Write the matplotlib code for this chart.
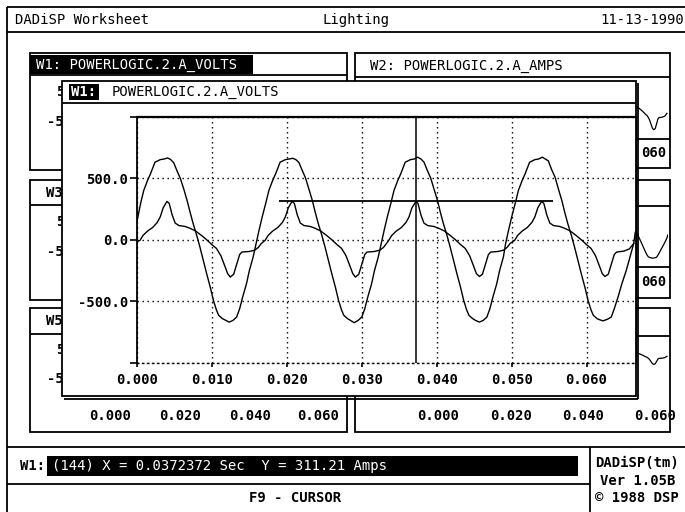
import numpy as np
import matplotlib
matplotlib.use("Agg")
import matplotlib.pyplot as plt
from matplotlib.patches import Rectangle

# ---------------- data ----------------
# large waveform (time in ms, value)
volts_t_ms = [0.0, 0.5, 0.9, 1.4, 1.8, 2.4, 3.1, 3.6, 4.1, 4.5, 4.9, 5.3, 5.8, 6.3, 6.7, 7.1, 7.5, 8.0,
              8.4, 8.9, 9.3, 9.8, 10.2, 10.6, 10.9, 11.4, 11.8, 12.3, 12.8, 13.3, 13.7, 14.1, 14.6, 15.0, 15.5,
              15.9, 16.3, 16.7, 17.2, 17.6, 18.1, 18.5, 19.1, 19.8, 20.3, 20.8, 21.2, 21.6, 22.0, 22.5, 23.0,
              23.4, 23.8, 24.2, 24.7, 25.1, 25.6, 26.0, 26.5, 26.9, 27.3, 27.6, 28.1, 28.5, 29.0, 29.5, 30.0,
              30.4, 30.8, 31.3, 31.7, 32.2,
              32.6, 33.0, 33.4, 33.9, 34.3, 34.8, 35.2, 35.8, 36.5, 37.0, 37.45, 37.9, 38.3, 38.7, 39.2, 39.7,
              40.1, 40.5, 40.9, 41.4, 41.8, 42.3, 42.7, 43.2, 43.6, 44.0, 44.3, 44.8, 45.2, 45.7, 46.2, 46.7,
              47.1, 47.5, 48.0, 48.4, 48.9,
              49.2, 49.6, 50.0, 50.5, 50.9, 51.4, 51.8, 52.4, 53.1, 53.6, 54.1, 54.5, 54.9, 55.3, 55.8, 56.3,
              56.7, 57.1, 57.5, 58.0, 58.4, 58.9, 59.3, 59.8, 60.2, 60.6, 60.9, 61.4, 61.8, 62.2, 62.8, 63.3,
              63.7, 64.2, 64.7, 65.3, 65.8, 66.3, 66.5]
volts_v = [150, 300, 400, 480, 535, 629, 650, 655, 664, 650, 625, 565, 495, 400, 315, 220, 130, 30,
           -60, -180, -276, -390, -492, -570, -613, -640, -652, -668, -655, -627, -560, -465, -360, -249, -140,
           -30, 80, 183, 300, 400, 480, 535, 629, 650, 655, 661, 650, 628, 570, 500, 400,
           319, 220, 130, 30, -60, -180, -276, -390, -492, -570, -613, -640, -655, -673, -655, -627,
           -560, -465, -360, -249, -140,
           -30, 80, 183, 300, 400, 480, 535, 629, 650, 655, 670, 655, 630, 570, 500, 400,
           319, 220, 130, 30, -60, -180, -276, -390, -492, -570, -613, -640, -655, -668, -655, -627,
           -560, -465, -360, -249, -140,
           -30, 80, 183, 300, 400, 480, 535, 629, 650, 655, 670, 655, 640, 575, 507, 400,
           319, 220, 130, 30, -60, -180, -276, -390, -492, -570, -613, -640, -650, -658, -645, -627,
           -560, -465, -360, -249, -140, -30, 60]

# small waveform (time in ms, value)
amps_t_ms = [0.0, 0.4, 0.8, 1.4, 2.1, 2.7, 3.1, 3.5, 4.0, 4.3, 4.7, 5.1, 5.6, 6.4, 7.0, 7.8, 8.6, 9.3,
             10.0, 10.6, 11.2, 11.7, 12.1, 12.45, 12.9, 13.3, 13.7, 14.0, 15.0, 15.7, 16.2, 16.6,
             17.1, 17.5, 18.1, 18.8, 19.4, 19.8, 20.2, 20.7, 21.0, 21.4, 21.8, 22.3, 23.1, 23.7, 24.5, 25.3,
             26.0, 26.7, 27.3, 27.9, 28.4, 28.8, 29.15, 29.6, 30.0, 30.4, 30.7, 31.7, 32.4, 32.9, 33.3,
             33.6, 34.0, 34.6, 35.3, 35.9, 36.3, 36.7, 37.24, 37.5, 37.9, 38.3, 38.8, 39.6, 40.2, 41.0, 41.8,
             42.5, 43.2, 43.8, 44.4, 44.9, 45.3, 45.7, 46.1, 46.5, 46.9, 47.2, 48.2, 48.9, 49.4, 49.8,
             50.4, 50.8, 51.4, 52.1, 52.7, 53.1, 53.5, 54.0, 54.3, 54.7, 55.1, 55.6, 56.4, 57.0, 57.8, 58.6,
             59.3, 60.0, 60.6, 61.2, 61.7, 62.1, 62.45, 62.9, 63.3, 63.7, 64.0, 65.0, 65.7, 66.3]
amps_v = [-15, -5, 35, 70, 100, 140, 185, 260, 311, 295, 200, 135, 115, 108, 95, 72, 35, 0,
          -40, -70, -130, -210, -275, -303, -280, -200, -120, -100, -95, -85, -62, -30,
          -5, 35, 70, 100, 140, 185, 260, 311, 295, 200, 135, 115, 108, 95, 72, 35,
          0, -40, -70, -130, -210, -275, -303, -280, -200, -120, -100, -95, -85, -62, -30,
          -5, 35, 70, 100, 140, 185, 260, 311, 295, 200, 135, 115, 108, 95, 72, 35,
          0, -40, -70, -130, -210, -275, -298, -280, -200, -120, -100, -95, -85, -62, -30,
          -5, 35, 70, 100, 140, 185, 260, 311, 295, 200, 135, 115, 108, 95, 72, 35,
          0, -40, -70, -130, -210, -275, -298, -280, -200, -120, -100, -92, -75, -30]

x_ticks = [0.000, 0.010, 0.020, 0.030, 0.040, 0.050, 0.060]
x_tick_labels = ["0.000", "0.010", "0.020", "0.030", "0.040", "0.050", "0.060"]
y_ticks = [-1000, -500, 0, 500, 1000]
y_tick_labels = ["", "-500.0", "0.0", "500.0", ""]
x_limits = [0.0, 0.0666]
y_limits = [-1000, 1000]

cursor_index = 144
cursor_x = 0.0372372
cursor_y = 311.21
cursor_span = [0.0189, 0.0555]

bg_tick_labels = ["0.000", "0.020", "0.040", "0.060"]
bg_hidden_pos_label = "5"     # visible part of "500.0" behind the zoomed window
bg_hidden_neg_label = "-5"    # visible part of "-500.0" behind the zoomed window
bg_hidden_right_label = "060" # visible part of "0.060" behind the zoomed window

volts_t = np.array(volts_t_ms) / 1000.0
amps_t = np.array(amps_t_ms) / 1000.0

# ---------------- figure ----------------
W, H = 685, 512
plt.rcParams['font.family'] = ['DejaVu Sans Mono']
plt.rcParams['font.size'] = 10
fig = plt.figure(figsize=(W / 100, H / 100), dpi=100, facecolor='white')

DOT = (0, (1, 2.6))


def box(x0, y0, x1, y1):
    return [x0 / W, 1 - y1 / H, (x1 - x0) / W, (y1 - y0) / H]


# background window traces (mostly hidden by the zoomed window)
def bg_trace(pos, t, v, ylim):
    a = fig.add_axes(box(*pos))
    a.plot(t, v, color='k', lw=0.9)
    a.set_xlim(x_limits)
    a.set_ylim(ylim)
    a.axis('off')
    return a

bg_trace((438, 84, 668, 139), amps_t, amps_v, (-450, 450))
bg_trace((438, 208, 668, 266), volts_t, volts_v, (-900, 900))
bg_trace((438, 340, 668, 392), amps_t, amps_v, (-1200, 500))

ui = fig.add_axes([0, 0, 1, 1])
ui.set_xlim(0, W)
ui.set_ylim(H, 0)
ui.axis('off')
ui.patch.set_visible(False)


def line(x0, y0, x1, y1, lw=1.3, z=1):
    ui.plot([x0, x1], [y0, y1], color='k', lw=lw, zorder=z, solid_capstyle='butt')


def rect(x0, y0, x1, y1, fc='none', lw=1.3, z=1):
    ui.add_patch(Rectangle((x0, y0), x1 - x0, y1 - y0, fc=fc, ec='k', lw=lw, zorder=z))


def txt(x, y, s, ha='left', color='k', weight='normal', z=2, size=10):
    ui.text(x, y, s, ha=ha, va='center', color=color, fontweight=weight, zorder=z, fontsize=size)


# outer frame and title bar
line(7, 7, 685, 7)
line(7, 7, 7, 512)
line(7, 32, 685, 32)
txt(15, 20, "DADiSP Worksheet")
txt(356, 20, "Lighting", ha='center')
txt(684, 20, "11-13-1990", ha='right')

# left column windows
rect(30, 53, 347, 170)
rect(30, 180, 347, 300)
rect(30, 308, 347, 432)
line(30, 75, 347, 75)
line(30, 205, 347, 205)
line(30, 334, 347, 334)
ui.add_patch(Rectangle((30, 55), 223, 19, fc='k', ec='none', zorder=1.5))
txt(36, 65, "W1: POWERLOGIC.2.A_VOLTS", color='white', z=2)
txt(46, 193, "W3", weight='bold')
txt(46, 321, "W5", weight='bold')
for yc in (92, 222, 350):
    txt(64, yc, bg_hidden_pos_label, ha='right', weight='bold')
for yc in (122, 252, 379):
    txt(64, yc, bg_hidden_neg_label, ha='right', weight='bold')
for xc, lab in zip((110, 180, 250, 318), bg_tick_labels):
    txt(xc, 416, lab, ha='center', weight='bold')

# right column windows
rect(355, 53, 670, 168)
rect(355, 180, 670, 298)
rect(355, 308, 670, 432)
line(355, 77, 670, 77)
line(355, 206, 670, 206)
line(355, 336, 670, 336)
line(355, 139, 670, 139)
line(355, 267, 670, 267)
txt(370, 66, "W2: POWERLOGIC.2.A_AMPS")
txt(641, 153, bg_hidden_right_label, weight='bold')
txt(641, 282, bg_hidden_right_label, weight='bold')
for xc, lab in zip((438, 511, 583, 655), bg_tick_labels):
    txt(xc, 416, lab, ha='center', weight='bold')

# zoomed window
rect(62, 81, 636, 396, fc='white', z=5)
line(64, 398.5, 638.5, 398.5, z=5)
line(638.5, 83, 638.5, 398.5, z=5)
line(62, 103, 636, 103, z=6)
ui.add_patch(Rectangle((69, 84), 30, 16, fc='k', ec='none', zorder=6))
txt(71, 92, "W1:", color='white', weight='bold', z=7)
txt(112, 92, "POWERLOGIC.2.A_VOLTS", z=7)

# status area
line(7, 447, 685, 447)
line(7, 484, 590, 484)
line(590, 447, 590, 512)
txt(20, 466, "W1:", weight='bold')
ui.add_patch(Rectangle((47, 456), 531, 20, fc='k', ec='none', zorder=1.5))
txt(52, 466, f"({cursor_index}) X = {cursor_x:.7f} Sec  Y = {cursor_y:.2f} Amps", color='white')
txt(295, 498, "F9 - CURSOR", ha='center', weight='bold')
txt(595, 463, "DADiSP(tm)", weight='bold')
txt(600, 481, "Ver 1.05B", weight='bold')
txt(595, 498, "\u00a9 1988 DSP", weight='bold')

# ---------------- main zoomed plot ----------------
ax = fig.add_axes(box(137, 116.5, 636, 363))
ax.set_facecolor('white')
ax.plot(volts_t, volts_v, color='k', lw=1.0)
ax.plot(amps_t, amps_v, color='k', lw=1.0)
ax.axvline(cursor_x, color='k', lw=1.1)
ax.hlines(cursor_y, cursor_span[0], cursor_span[1], color='k', lw=1.3)
ax.set_xlim(x_limits)
ax.set_ylim(y_limits)
ax.set_xticks(x_ticks)
ax.set_xticklabels(x_tick_labels, fontweight='bold')
ax.set_yticks(y_ticks)
ax.set_yticklabels(y_tick_labels, fontweight='bold')
ax.tick_params(axis='y', direction='out', length=5, width=1.2, pad=1.5, labelsize=10)
ax.tick_params(axis='x', direction='out', length=3, width=1.2, pad=4, labelsize=10)
ax.grid(True, color='k', lw=1.0, linestyle=DOT)
ax.spines['bottom'].set_linestyle(DOT)
ax.spines['bottom'].set_linewidth(1.0)
ax.spines['left'].set_linewidth(1.3)
ax.spines['top'].set_linewidth(1.6)
ax.spines['right'].set_linewidth(1.3)

fig.savefig("out.png", dpi=100, facecolor='white')
